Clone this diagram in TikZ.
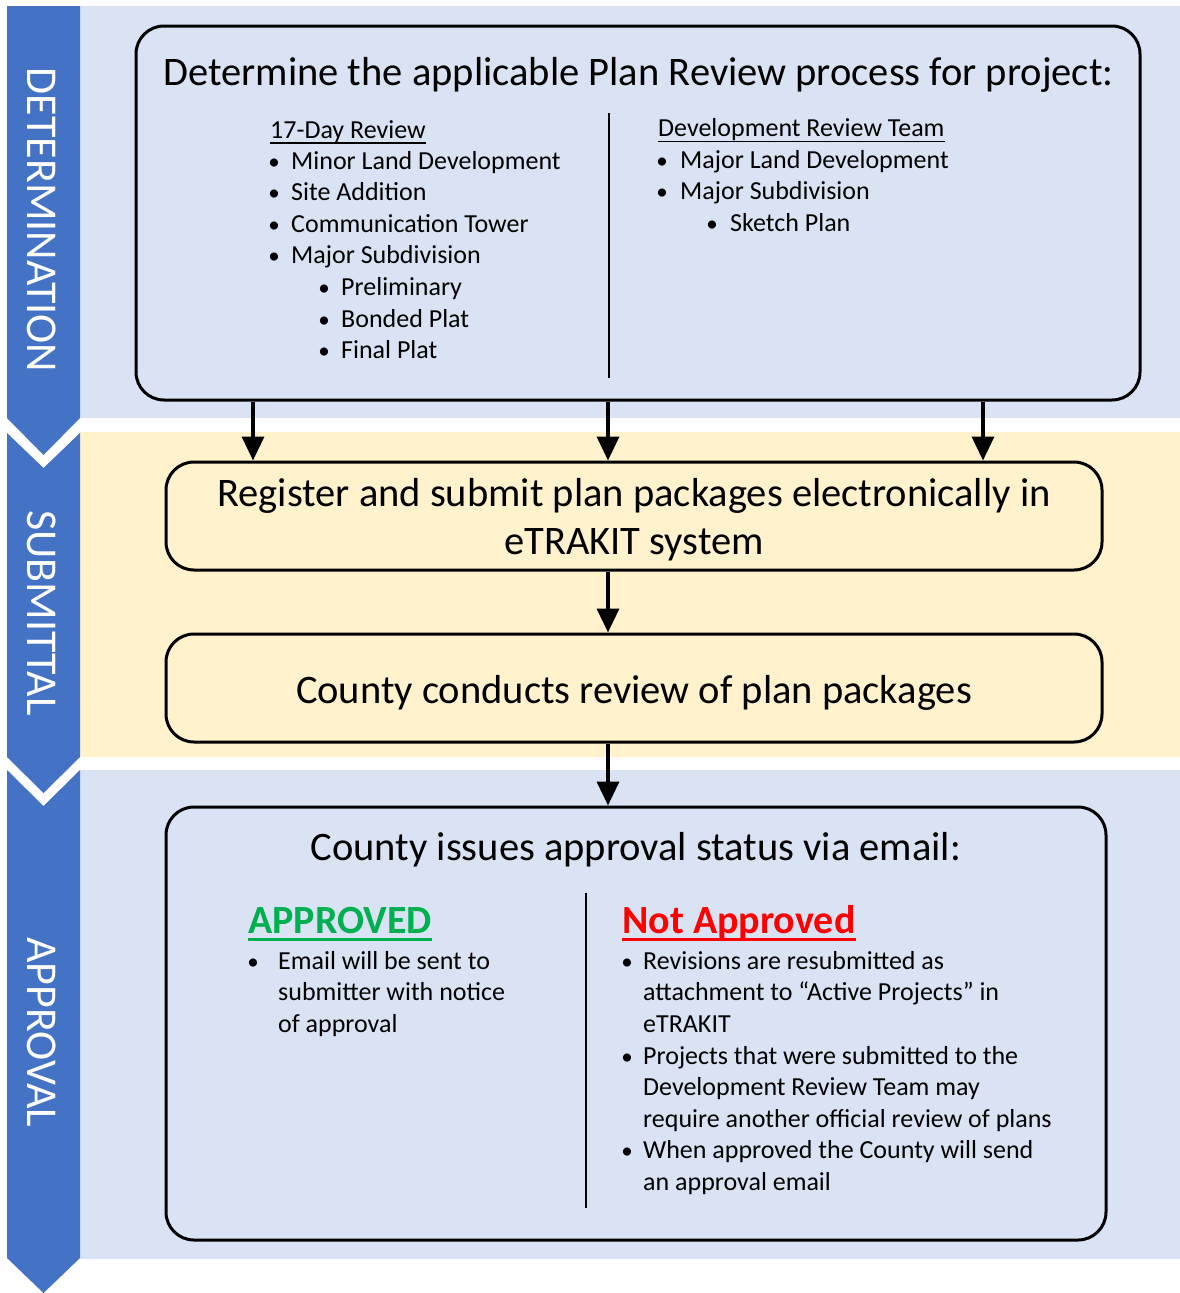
\documentclass[tikz,border=0pt]{standalone}
\usepackage{fontspec}
\setmainfont{Carlito}
\usetikzlibrary{arrows.meta,positioning}
\definecolor{Strip}{HTML}{4472C4}
\definecolor{PaleBlue}{HTML}{DAE3F3}
\definecolor{PaleGold}{HTML}{FFF2CC}
\definecolor{Go}{HTML}{00B050}
\definecolor{Stop}{HTML}{FF0000}
\newcommand{\fsz}[1]{\fontsize{#1}{#1}\selectfont}

\begin{document}
\begin{tikzpicture}[x=1pt,y=-1pt,>={Triangle[width=22pt,length=24pt]},
  box/.style={draw,line width=3pt,rounded corners=28pt,inner sep=0pt},
  txt/.style={inner sep=0pt,anchor=base west,font=\fsz{26}},
  dot/.style={inner sep=0pt,anchor=base,font=\fsz{23}},
  big/.style={inner sep=0pt,anchor=base,font=\fsz{40.5}},
  side/.style={text=white,rotate=-90,inner sep=0pt,font=\fsz{44}},
  flow/.style={->,line width=3.5pt}]
\useasboundingbox(0,0)rectangle(1180,1293);
\fill[PaleBlue](80,6)rectangle(1180,418);
\fill[PaleGold](80,432)rectangle(1180,757);
\fill[PaleBlue](80,770)rectangle(1180,1259);
\fill[Strip](7,6)--(80,6)--(80,418)--(43.5,455)--(7,418)--cycle;
\fill[Strip](7,433)--(43.5,468)--(80,433)--(80,757)--(43.5,793)--(7,757)--cycle;
\fill[Strip](7,770)--(43.5,806)--(80,770)--(80,1258)--(43.5,1293)--(7,1258)--cycle;
\node[side](sDet)at(42,220){DETERMINATION};
\node[side](sSub)at(42,613){SUBMITTAL};
\node[side](sApp)at(42,1032){APPROVAL};
\node[box,fill=PaleBlue,minimum width=1004,minimum height=374](det)at(638,213){};
\node[box,fill=PaleGold,minimum width=936,minimum height=108](reg)at(634,516){};
\node[box,fill=PaleGold,minimum width=936,minimum height=108](rev)at(634,688){};
\node[box,fill=PaleBlue,minimum width=940,minimum height=433](iss)at(636,1023.5){};
\node[big](detT)at(638.5,85){Determine the applicable Plan Review process for project:};
\node[big](regT1)at(634,506){Register and submit plan packages electronically in};
\node[big](regT2)at(634,554){eTRAKIT system};
\node[big](revT)at(634,703){County conducts review of plan packages};
\node[big](issT)at(636,860){County issues approval status via email:};
\node[txt](h17)at(270,138){17-Day Review};
\draw[line width=1.5pt]([yshift=-5pt]h17.base west)--([yshift=-5pt]h17.base east);
\foreach \dx/\t[count=\i]in{0/Minor Land Development,0/Site Addition,0/Communication Tower,0/Major Subdivision,50/Preliminary,50/Bonded Plat,50/Final Plat}{
  \node[dot](b\i)at(274+\dx,137.5+31.6*\i){•};
  \node[txt](l\i)at(291+\dx,137.5+31.6*\i){\t};}
\node[txt](hDrt)at(658,136.4){Development Review Team};
\draw[line width=1.5pt]([yshift=-5pt]hDrt.base west)--([yshift=-5pt]hDrt.base east);
\foreach \dx/\t[count=\i]in{0/Major Land Development,0/Major Subdivision,50/Sketch Plan}{
  \node[dot](rb\i)at(662+\dx,136.4+31.6*\i){•};
  \node[txt](r\i)at(680+\dx,136.4+31.6*\i){\t};}
\draw[line width=2pt](609,113)--(609,378);
\node[txt,font=\fsz{40}\bfseries,text=Go](ok)at(248,933){APPROVED};
\draw[line width=3pt,Go]([yshift=-6pt]ok.base west)--([yshift=-6pt]ok.base east);
\node[txt,font=\fsz{40}\bfseries,text=Stop](no)at(622,933){Not Approved};
\draw[line width=3pt,Stop]([yshift=-6pt]no.base west)--([yshift=-6pt]no.base east);
\foreach \b/\t[count=\i]in{•/Email will be sent to,/submitter with notice,/of approval}{
  \node[dot](ab\i)at(253,937.6+31.6*\i){\b};
  \node[txt](a\i)at(278,937.6+31.6*\i){\t};}
\foreach \b/\t[count=\i]in{•/Revisions are resubmitted as,/attachment to “Active Projects” in,/eTRAKIT,
  •/Projects that were submitted to the,/Development Review Team may,/require another official review of plans,
  •/When approved the County will send,/an approval email}{
  \node[dot](nb\i)at(627,937.6+31.6*\i){\b};
  \node[txt](n\i)at(643,937.6+31.6*\i){\t};}
\draw[line width=2pt](586,893)--(586,1208);
\coordinate(c1)at(253,0);\coordinate(c2)at(608,0);\coordinate(c3)at(983,0);
\draw[flow](det.south-|c1)--(reg.north-|c1);
\draw[flow](det.south-|c2)--(reg.north-|c2);
\draw[flow](det.south-|c3)--(reg.north-|c3);
\draw[flow](reg.south-|c2)--(rev.north-|c2);
\draw[flow](rev.south-|c2)--(iss.north-|c2);
\end{tikzpicture}
\end{document}
